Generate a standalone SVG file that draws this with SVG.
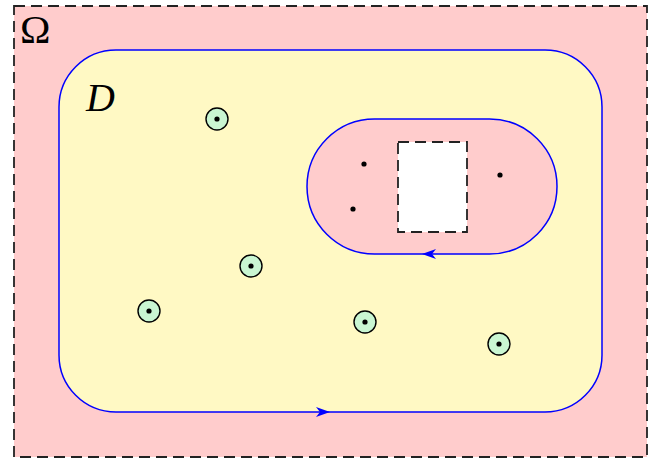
<svg xmlns="http://www.w3.org/2000/svg" width="650" height="461" viewBox="0 0 650 461">
<defs>
<style>
.blue{fill:none;stroke:#0000ff;stroke-width:1.5}
.dash{stroke:#222;stroke-width:1.8;stroke-dasharray:11,6}
.pt{fill:#000}
.node circle.o{fill:#c9f6d2;stroke:#000;stroke-width:1.4}
.arr{fill:#0000ff}
</style>
</defs>
<rect id="omega" x="14" y="6" width="633" height="451" fill="#ffcccc" class="dash"/>
<text x="20" y="43" font-family="Liberation Serif, serif" font-size="41" fill="#000">Ω</text>
<g id="D">
<rect x="59" y="50" width="543" height="362" rx="57" ry="57" fill="#fff9c4" stroke="none"/>
</g>
<g id="hole">
<rect x="307" y="119" width="250" height="135" rx="67.5" ry="67.5" fill="#ffcccc"/>
<rect x="398" y="142" width="69" height="90" fill="#fff" class="dash"/>
<circle class="pt" cx="364" cy="164" r="2.6"/>
<circle class="pt" cx="353" cy="209" r="2.6"/>
<circle class="pt" cx="500" cy="175" r="2.6"/>
</g>
<g id="connectors">
<rect class="blue" x="59" y="50" width="543" height="362" rx="57" ry="57"/>
<rect class="blue" x="307" y="119" width="250" height="135" rx="67.5" ry="67.5"/>
<path class="arr" d="M330,412 L316,407 L320,412 L316,417 Z"/>
<path class="arr" d="M422,254 L436,249 L432,254 L436,259 Z"/>
</g>
<text x="86" y="111" font-family="Liberation Serif, serif" font-style="italic" font-size="40" fill="#000">D</text>
<g id="n1" class="node"><circle class="o" cx="217" cy="119" r="11"/><circle class="pt" cx="217" cy="119" r="2.6"/></g>
<g id="n2" class="node"><circle class="o" cx="251" cy="266" r="11"/><circle class="pt" cx="251" cy="266" r="2.6"/></g>
<g id="n3" class="node"><circle class="o" cx="149" cy="311" r="11"/><circle class="pt" cx="149" cy="311" r="2.6"/></g>
<g id="n4" class="node"><circle class="o" cx="365" cy="322" r="11"/><circle class="pt" cx="365" cy="322" r="2.6"/></g>
<g id="n5" class="node"><circle class="o" cx="499" cy="344" r="11"/><circle class="pt" cx="499" cy="344" r="2.6"/></g>
</svg>
